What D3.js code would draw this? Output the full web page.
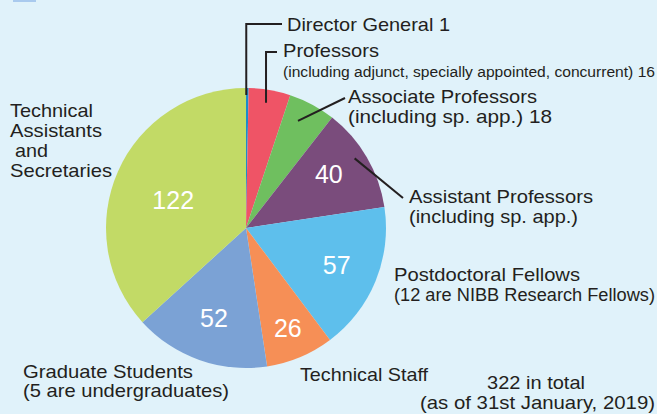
<!DOCTYPE html>
<html><head><meta charset="utf-8">
<script src="https://cdn.jsdelivr.net/npm/d3@7/dist/d3.min.js"></script>
<style>
html,body{margin:0;padding:0;background:#e0f2fa;}
svg{display:block;font-family:"Liberation Sans",Arial,Helvetica,sans-serif;}
</style></head>
<body><svg id="c" width="657" height="414"></svg>
<script>
const categories = ["Director General","Professors","Associate Professors","Assistant Professors","Postdoctoral Fellows","Technical Staff","Graduate Students","Technical Assistants and Secretaries"];
const values = [1,16,18,40,57,26,52,122];
const colors = ["#1b8ccc","#ef5466","#6fbf5f","#7a4c7c","#5ebfec","#f68f56","#7ba2d5","#c2da66"];
const insideLabels = ["","","","40","57","26","52","122"];
const totalLines = ["322 in total","(as of 31st January, 2019)"];

const svg = d3.select("#c");
const W = 657, H = 414;
svg.append("rect").attr("width",W).attr("height",H).attr("fill","#e0f2fa");
svg.append("rect").attr("x",13).attr("y",0).attr("width",23).attr("height",2).attr("fill","#a9caee");

const cx = 246, cy = 228, R = 140;
const g = svg.append("g").attr("transform",`translate(${cx},${cy})`);
const pie = d3.pie().sort(null).value(d=>d);
const arcs = pie(values);
const arc = d3.arc().innerRadius(0).outerRadius(R);
g.selectAll("path").data(arcs).join("path")
  .attr("d",arc).attr("fill",(d,i)=>colors[i]);

// inside value labels (radius and angle shift per slice)
const labelR = [0,0,0,99,98,108,96,78];
const labelShift = [0,0,0,-0.05,0,0,0,-0.05];
arcs.forEach((d,i)=>{
  if(!insideLabels[i]) return;
  const a=(d.startAngle+d.endAngle)/2+labelShift[i];
  g.append("text")
    .attr("x",Math.sin(a)*labelR[i]).attr("y",-Math.cos(a)*labelR[i])
    .attr("dy","0.36em").attr("text-anchor","middle")
    .attr("fill","#fff").attr("font-size",25)
    .text(insideLabels[i]);
});

function pt(i, r, shift=0){const a=(arcs[i].startAngle+arcs[i].endAngle)/2+shift;return [cx+Math.sin(a)*r, cy-Math.cos(a)*r];}
const ink = "#231f20";
const line = d3.line();
function leader(points){svg.append("path").attr("d",line(points)).attr("fill","none").attr("stroke",ink).attr("stroke-width",2);}

// Director General
let p = pt(0,133);
leader([[p[0]-1,p[1]],[p[0]-1,24],[282,24]]);
// Professors
p = pt(1,127);
leader([[p[0]-1.5,p[1]],[p[0]-1.5,52],[277,52]]);
// Associate
p = pt(2,119,-0.04);
leader([p,[345,98]]);
// Assistant
p = pt(3,129,-0.04);
leader([p,[403,198]]);

function txt(x,y,s,size,len){
  return svg.append("text").attr("x",x).attr("y",y).attr("fill",ink)
    .attr("font-size",size).attr("textLength",len).attr("lengthAdjust","spacingAndGlyphs").text(s);
}
const fs = 19;
txt(287,31,categories[0]+" "+values[0],fs,163);
txt(283,57,categories[1],fs,96);
txt(283,77,"(including adjunct, specially appointed, concurrent) "+values[1],15.5,372);
txt(348,103,categories[2],fs,189);
txt(348,123,"(including sp. app.)  "+values[2],fs,204);
txt(409,203,categories[3],fs,184);
txt(409,223,"(including sp. app.)",fs,169);
txt(394,281,categories[4],fs,186);
txt(394,301,"(12 are NIBB Research Fellows)",17.5,261);
txt(10,117,"Technical",fs,83);
txt(10,137,"Assistants",fs,92);
txt(15,157,"and",fs,33);
txt(10,177,"Secretaries",fs,102);
txt(23,378,categories[6],fs,170);
txt(23,397,"(5 are undergraduates)",fs,206);
txt(300,381,categories[5],fs,128);
txt(487,389,totalLines[0],fs,98);
txt(420,409,totalLines[1],fs,235);
</script></body></html>
